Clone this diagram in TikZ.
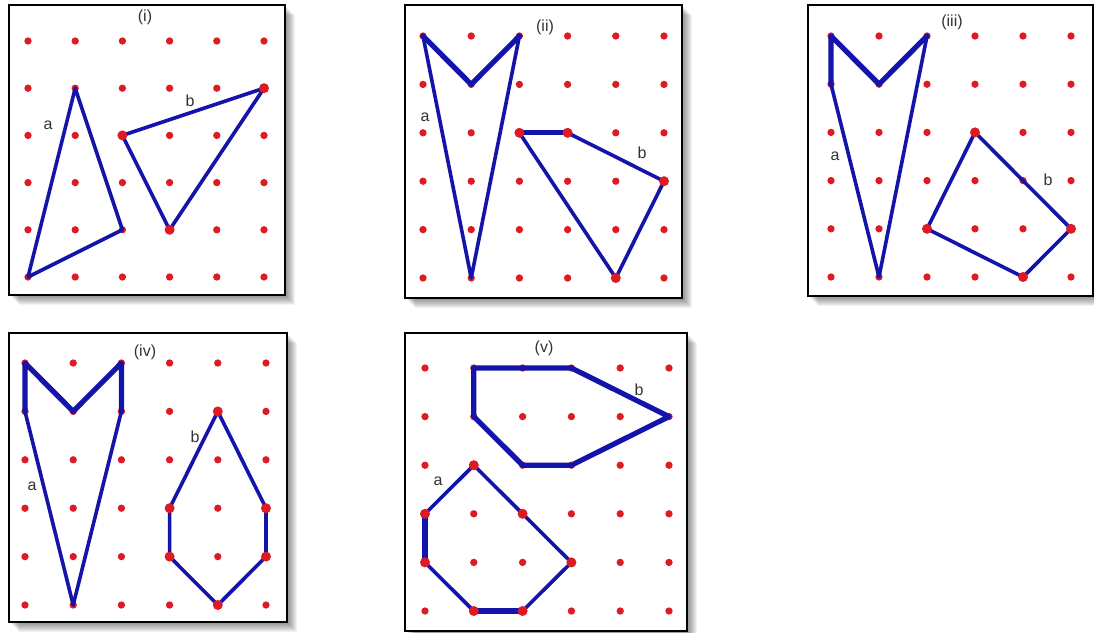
\documentclass[tikz,border=0pt]{standalone}
\usepackage{fontspec}
\setmainfont{Liberation Sans}
\definecolor{dotred}{RGB}{222,26,34}
\definecolor{lineblue}{RGB}{20,20,170}
\tikzset{
  dot/.style={circle,fill=dotred,inner sep=0pt,minimum size=5.5pt},
  bigdot/.style={circle,fill=dotred,inner sep=0pt,minimum size=7.5pt},
  edge/.style={draw=lineblue,line width=2.7pt,line join=round,line cap=round},
  thickedge/.style={draw=lineblue,line width=3.9pt,line join=round,line cap=round},
  frame/.style={draw=black,fill=white,line width=1.9pt},
  lbl/.style={font=\fontsize{12}{14}\selectfont,text=black!80,inner sep=0pt},
}
\newcommand{\dotgrid}{\foreach \i in {0,...,5}{\foreach \j in {0,...,5}{\node[dot] (g\i\j) at (\i,\j) {};}}}
\begin{document}
\begin{tikzpicture}[x=0.75pt,y=-0.75pt]
\useasboundingbox (0,0) rectangle (1094,632);
\fill[white] (0,0) rectangle (1094,632);
% frames with shadows
\foreach \x/\y/\X/\Y in {9/5/285/295, 405/5/682/298, 808/5/1093/296, 9/333/287/622, 405/333/687/631}{
  \foreach \k in {2,...,10}{\fill[black,opacity=0.05] (\x+\k,\y+\k) rectangle (\X+\k,\Y+\k);}
  \filldraw[frame] (\x,\y) rectangle (\X,\Y);
}
% panel (i)
\begin{scope}[shift={(28,41)},xscale=47.2,yscale=47.2]
  \dotgrid
  \draw[edge] (1,1) -- (2,4) -- (0,5) -- cycle;
  \draw[edge] (2,2) -- (5,1) -- (3,4) -- cycle;
  \foreach \p in {(2,2),(5,1),(3,4)} \node[bigdot] at \p {};
\end{scope}
\node[lbl] (ti) at (145,17) {(i)};
\node[lbl] (ai) at (48,125) {a};
\node[lbl] (bi) at (190,101) {b};
% panel (ii)
\begin{scope}[shift={(423,36)},xscale=48.2,yscale=48.4]
  \dotgrid
  \draw[edge] (0,0) -- (1,5) -- (2,0);
  \draw[thickedge] (0,0) -- (1,1) -- (2,0);
  \draw[edge] (3,2) -- (5,3) -- (4,5) -- (2,2);
  \draw[thickedge] (2,2) -- (3,2);
  \foreach \p in {(2,2),(3,2),(5,3),(4,5)} \node[bigdot] at \p {};
\end{scope}
\node[lbl] (tii) at (545,27) {(ii)};
\node[lbl] (aii) at (425,117) {a};
\node[lbl] (bii) at (642,153) {b};
% panel (iii)
\begin{scope}[shift={(831,36)},xscale=48,yscale=48.2]
  \dotgrid
  \draw[edge] (0,1) -- (1,5) -- (2,0);
  \draw[thickedge] (0,1) -- (0,0) -- (1,1) -- (2,0);
  \draw[edge] (3,2) -- (5,4) -- (4,5) -- (2,4) -- cycle;
  \foreach \p in {(3,2),(5,4),(4,5),(2,4)} \node[bigdot] at \p {};
\end{scope}
\node[lbl] (tiii) at (952,22) {(iii)};
\node[lbl] (aiii) at (835,156) {a};
\node[lbl] (biii) at (1048,180) {b};
% panel (iv)
\begin{scope}[shift={(25,363)},xscale=48.2,yscale=48.4]
  \dotgrid
  \draw[edge] (0,1) -- (1,5) -- (2,1);
  \draw[thickedge] (0,1) -- (0,0) -- (1,1) -- (2,0) -- (2,1);
  \draw[edge] (4,1) -- (5,3) -- (5,4) -- (4,5) -- (3,4) -- (3,3) -- cycle;
  \foreach \p in {(4,1),(5,3),(5,4),(4,5),(3,4),(3,3)} \node[bigdot] at \p {};
\end{scope}
\node[lbl] (tiv) at (145,352) {(iv)};
\node[lbl] (aiv) at (32,486) {a};
\node[lbl] (biv) at (195,437) {b};
% panel (v)
\begin{scope}[shift={(425,368)},xscale=48.8,yscale=48.6]
  \dotgrid
  \draw[thickedge] (1,0) -- (3,0) -- (5,1) -- (3,2) -- (2,2) -- (1,1) -- cycle;
  \draw[edge] (1,2) -- (3,4) -- (2,5) -- (1,5) -- (0,4) -- (0,3) -- cycle;
  \draw[thickedge] (1,5) -- (2,5) (0,4) -- (0,3);
  \foreach \p in {(1,2),(3,4),(2,5),(1,5),(0,4),(0,3),(2,3)} \node[bigdot] at \p {};
\end{scope}
\node[lbl] (tv) at (544,348) {(v)};
\node[lbl] (av) at (438,481) {a};
\node[lbl] (bv) at (639,390) {b};
\end{tikzpicture}
\end{document}
